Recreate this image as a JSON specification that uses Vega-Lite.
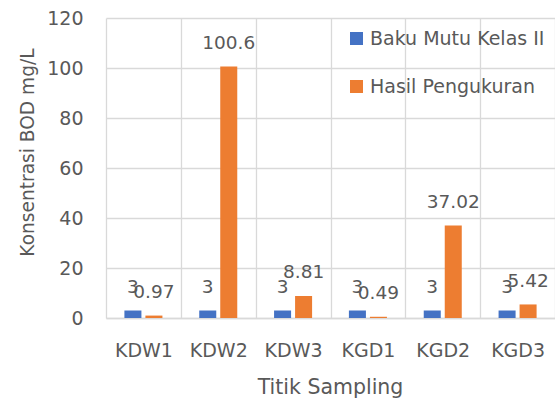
{
  "$schema": "https://vega.github.io/schema/vega-lite/v6.json",
  "autosize": {"type": "none"},
  "padding": {"left": 106, "top": 18, "right": 0, "bottom": 83},
  "width": 449,
  "height": 300,
  "background": "white",
  "config": {
    "font": "DejaVu Sans",
    "view": {"stroke": null}
  },
  "data": {
    "values": [
      {"titik": "KDW1", "seri": "Baku Mutu Kelas II", "nilai": 3},
      {"titik": "KDW1", "seri": "Hasil Pengukuran", "nilai": 0.97},
      {"titik": "KDW2", "seri": "Baku Mutu Kelas II", "nilai": 3},
      {"titik": "KDW2", "seri": "Hasil Pengukuran", "nilai": 100.6},
      {"titik": "KDW3", "seri": "Baku Mutu Kelas II", "nilai": 3},
      {"titik": "KDW3", "seri": "Hasil Pengukuran", "nilai": 8.81},
      {"titik": "KGD1", "seri": "Baku Mutu Kelas II", "nilai": 3},
      {"titik": "KGD1", "seri": "Hasil Pengukuran", "nilai": 0.49},
      {"titik": "KGD2", "seri": "Baku Mutu Kelas II", "nilai": 3},
      {"titik": "KGD2", "seri": "Hasil Pengukuran", "nilai": 37.02},
      {"titik": "KGD3", "seri": "Baku Mutu Kelas II", "nilai": 3},
      {"titik": "KGD3", "seri": "Hasil Pengukuran", "nilai": 5.42}
    ]
  },
  "encoding": {
    "x": {
      "field": "titik",
      "type": "nominal",
      "sort": null,
      "scale": {"paddingInner": 0, "paddingOuter": 0},
      "axis": {
        "title": "Titik Sampling",
        "titleFontSize": 20.5,
        "titleFontWeight": "normal",
        "titleColor": "#595959",
        "titleX": 224,
        "titleY": 75.5,
        "titleBaseline": "alphabetic",
        "labelAngle": 0,
        "labelFontSize": 19,
        "labelColor": "#595959",
        "labelPadding": 23,
        "ticks": false,
        "tickBand": "extent",
        "grid": true,
        "gridColor": "#d9d9d9",
        "gridWidth": 1.3,
        "domainColor": "#d9d9d9",
        "domainWidth": 1.3
      }
    },
    "xOffset": {
      "field": "seri",
      "type": "nominal",
      "scale": {"paddingInner": 0.19, "paddingOuter": 0.876}
    },
    "y": {
      "field": "nilai",
      "type": "quantitative",
      "scale": {"domain": [0, 120], "nice": false},
      "axis": {
        "title": "Konsentrasi BOD mg/L",
        "titleFontSize": 18.6,
        "titleFontWeight": "normal",
        "titleColor": "#595959",
        "titleX": -73,
        "titleY": 134,
        "titleAngle": -90,
        "titleBaseline": "alphabetic",
        "titleAlign": "center",
        "values": [0, 20, 40, 60, 80, 100, 120],
        "labelFontSize": 19,
        "labelColor": "#595959",
        "labelPadding": 23,
        "ticks": false,
        "domain": false,
        "grid": true,
        "gridColor": "#d9d9d9",
        "gridWidth": 1.3
      }
    }
  },
  "layer": [
    {
      "mark": {"type": "bar"},
      "encoding": {
        "color": {
          "field": "seri",
          "type": "nominal",
          "scale": {"domain": ["Baku Mutu Kelas II", "Hasil Pengukuran"], "range": ["#4472C4", "#ED7D31"]},
          "legend": {
            "title": null,
            "orient": "none",
            "legendX": 241,
            "legendY": 11,
            "symbolType": "square",
            "symbolSize": 169,
            "symbolStrokeWidth": 0,
            "symbolOpacity": 1,
            "labelFontSize": 19,
            "labelColor": "#595959",
            "labelOffset": 4,
            "labelLimit": 400,
            "rowPadding": 28
          }
        }
      }
    },
    {
      "mark": {"type": "text", "baseline": "alphabetic", "dy": -17.5, "fontSize": 18.5, "color": "#595959"},
      "encoding": {
        "text": {"field": "nilai", "type": "quantitative"}
      }
    }
  ]
}
